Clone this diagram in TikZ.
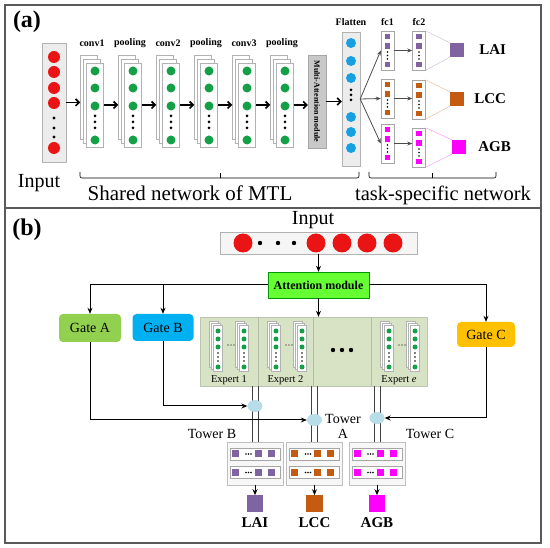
\documentclass[tikz,border=0pt]{standalone}
\usepackage{fontspec}
\setmainfont{Liberation Serif}
\usetikzlibrary{positioning,arrows.meta,shapes.geometric,calc}
\definecolor{netred}{RGB}{235,20,20}
\definecolor{netgreen}{RGB}{20,160,70}
\definecolor{netblue}{RGB}{20,160,225}
\definecolor{taskpurple}{RGB}{128,100,162}
\definecolor{taskorange}{RGB}{197,90,17}
\definecolor{taskmagenta}{RGB}{255,0,255}
\definecolor{attgreen}{RGB}{102,255,51}
\definecolor{gateA}{RGB}{146,208,80}
\definecolor{gateB}{RGB}{0,176,240}
\definecolor{gateC}{RGB}{255,192,0}
\definecolor{expertbg}{RGB}{216,226,196}
\definecolor{towerblue}{RGB}{183,221,232}
\definecolor{boxgray}{RGB}{236,236,236}
\definecolor{magray}{RGB}{200,200,200}
\definecolor{framegray}{RGB}{90,90,90}

\tikzset{
  panel/.style={draw=framegray, line width=1.2pt},
  panellab/.style={font=\bfseries\fontsize{24}{28}\selectfont, inner sep=0pt},
  bigtext/.style={font=\fontsize{21}{25}\selectfont, inner sep=0pt},
  column/.style={draw=gray!60, fill=boxgray, inner sep=0pt},
  sheet/.style={draw=gray!60, fill=white, line width=0.5pt, inner sep=0pt,
    minimum width=17pt, minimum height=84pt},
  ssheet/.style={draw=gray!60, fill=white, line width=0.4pt, inner sep=0pt,
    minimum width=9pt, minimum height=46pt},
  stacklabel/.style={font=\bfseries\fontsize{10}{12}\selectfont, inner sep=0pt},
  flow/.style={-{Straight Barb[length=3.5pt,width=7pt]}, line width=1.6pt},
  thinflow/.style={-{Stealth[length=5pt,width=4pt]}, line width=0.8pt, draw=black!70},
  arrowb/.style={-{Stealth[length=6pt,width=5pt]}, line width=1pt},
  fcbox/.style={draw=gray!70, fill=white, inner sep=0pt, minimum width=13pt, minimum height=39pt},
  outsq/.style={draw=none, inner sep=0pt, minimum size=14pt},
  outlab/.style={font=\bfseries\fontsize{15}{18}\selectfont, inner sep=0pt},
  gate/.style={rounded corners=4pt, inner sep=0pt, font=\fontsize{14}{16}\selectfont},
  towerbox/.style={draw=gray!50, fill=gray!6, inner sep=0pt, minimum width=56pt, minimum height=43pt},
  towerbar/.style={draw=gray!70, fill=white, inner sep=0pt, minimum width=50pt, minimum height=12pt},
  tline/.style={draw=black!75, line width=0.8pt},
  towerdot/.style={ellipse, fill=towerblue, inner sep=0pt, minimum width=15pt, minimum height=12pt},
  midtext/.style={font=\fontsize{14}{15}\selectfont, inner sep=0pt},
}

\begin{document}
\begin{tikzpicture}[x=1pt, y=-1pt]
    \useasboundingbox (0,0) rectangle (550,548);

    % =========================================================================
    % PANNEAU (a)
    % =========================================================================
    \draw[panel] (5,5) rectangle (541,208);
    \node[panellab] (labA) at (27,22) {(a)};

    % colonne d'entree
    \node[column, minimum width=24pt, minimum height=119pt] (inA) at (54,102.5) {};
    \foreach \yy in {57,72,88,103,148} \fill[netred] (54,\yy) circle (6pt);
    \foreach \yy in {118,128,137} \fill (54,\yy) circle (1.6pt);
    \node[bigtext, font=\fontsize{20}{24}\selectfont] (inAT) at (39,183) {Input};

    % piles conv / pooling
    \foreach \cx/\lab [count=\i] in {95/conv1, 133/pooling, 171/conv2, 209/pooling, 247/conv3, 285/pooling} {
        \node[sheet] (b\i) at (\cx-6,97) {};
        \node[sheet] (m\i) at (\cx-3,101) {};
        \node[sheet] (s\i) at (\cx,105) {};
        \node[stacklabel] (l\i) at (\cx-3,43) {\lab};
        \foreach \yy in {71,88,106,140} \fill[netgreen] (\cx,\yy) circle (4.5pt);
        \foreach \yy in {116,122,128} \fill (\cx,\yy) circle (1.5pt);
    }
    \draw[flow] (inA.east) -- (inA.east -| b1.west);
    \foreach \i [evaluate=\i as \j using int(\i+1)] in {1,...,5}
        \draw[flow] (s\i.east) -- (s\i.east -| b\j.west);

    % module d'attention
    \node[draw=gray!70, fill=magray, inner sep=0pt, minimum width=18pt, minimum height=93pt] (ma) at (317,101.5) {};
    \node[rotate=-90, font=\bfseries\fontsize{8}{9}\selectfont, inner sep=0pt] (maT) at (ma.center) {Multi-Attention module};
    \draw[flow] (s6.east) -- (s6.east -| ma.west);

    % flatten
    \node[column, minimum width=18pt, minimum height=134pt] (fl) at (351,99) {};
    \foreach \yy in {43,61,78,117,132,148} \fill[netblue] (351,\yy) circle (5pt);
    \foreach \yy in {90,95,100} \fill (351,\yy) circle (1.5pt);
    \node[stacklabel] (flT) at (351,22) {Flatten};
    \draw[flow] (ma.east) -- (ma.east -| fl.west);

    % couches fc par tache
    \node[stacklabel] (fc1T) at (387.5,22) {fc1};
    \node[stacklabel] (fc2T) at (419,22) {fc2};
    \foreach \nm/\col/\ya/\yb in {lai/taskpurple/31/31, lcc/taskorange/79/80, agb/taskmagenta/124/128} {
        \node[fcbox] (\nm1) at (387.5,\ya+19.5) {};
        \node[fcbox] (\nm2) at (419,\yb+19.5) {};
        \foreach \bx/\by in {387.5/\ya, 419/\yb} {
            \foreach \dy in {5.5,15,33.5} \fill[\col] (\bx-2.6,\by+\dy-2.6) rectangle ++(5.2,5.2);
            \foreach \dy in {21,24.5,28} \fill (\bx,\by+\dy) circle (0.9pt);
        }
        \draw[thinflow] (fl.east) -- (\nm1.west);
        \draw[thinflow] (\nm1.east) -- (\nm1.east -| \nm2.west);
    }

    % sorties
    \foreach \nm/\col/\ox/\oy/\gap/\txt in {lai/taskpurple/457/50/15pt/LAI, lcc/taskorange/457/99/10pt/LCC, agb/taskmagenta/459/147/12pt/AGB} {
        \node[outsq, fill=\col] (\nm out) at (\ox,\oy) {};
        \draw[\col!40, line width=0.5pt] (\nm2.north east) -- (\nm out.north west)
                                         (\nm2.south east) -- (\nm out.south west);
        \node[outlab, right=\gap of \nm out] (\nm txt) {\txt};
    }

    % accolades
    \draw[line width=0.6pt, rounded corners=2pt] (80,172) -- (80,178) -- (359,178) -- (359,172);
    \draw[line width=0.6pt] (220,178) -- (220,173);
    \draw[line width=0.6pt, rounded corners=2pt] (369,172) -- (369,178) -- (496,178) -- (496,172);
    \draw[line width=0.6pt] (432,178) -- (432,173);
    \node[bigtext] (sharedT) at (190,193) {Shared network of MTL};
    \node[bigtext, font=\fontsize{20.5}{25}\selectfont] (taskT) at (443,195) {task-specific network};

    % =========================================================================
    % PANNEAU (b)
    % =========================================================================
    \draw[panel] (5,208) rectangle (541,543);
    \node[panellab] (labB) at (27,230) {(b)};

    % entree
    \node[bigtext, font=\fontsize{20}{24}\selectfont] (inBT) at (313,220) {Input};
    \node[column, fill=gray!8, minimum width=197pt, minimum height=22pt] (inB) at (318.5,243) {};
    \foreach \xx in {243,316,342,367,393} \fill[netred] (\xx,243) circle (9.5pt);
    \foreach \xx in {260,278,294} \fill (\xx,243) circle (2.2pt);

    % attention
    \node[draw=green!60!black, fill=attgreen, inner sep=0pt, minimum width=101pt, minimum height=26pt,
          font=\bfseries\fontsize{12}{14}\selectfont] (att) at (318.5,285) {Attention module};
    \draw[arrowb] (inB.south) -- (att.north);

    % portes
    \node[gate, fill=gateA, minimum width=62pt, minimum height=28pt] (gA) at (90,328) {Gate A};
    \node[gate, fill=gateB, minimum width=61pt, minimum height=27pt] (gB) at (163,327.5) {Gate B};
    \node[gate, fill=gateC, minimum width=58pt, minimum height=25pt] (gC) at (486,334.5) {Gate C};
    \draw[arrowb] (att.west) -| (gA.north);
    \draw[arrowb] (att.west) -| (gB.north);
    \draw[arrowb] (att.east) -| (gC.north);

    % experts
    \node[draw=expertbg!70!gray, fill=expertbg, inner sep=0pt, minimum width=227pt, minimum height=69pt] (ex) at (313.5,351.5) {};
    \draw[arrowb] (att.south) -- (att.south |- ex.north);
    \foreach \xl in {258,313,371} \draw[expertbg!60!gray, line width=0.6pt] (\xl,317) -- (\xl,386);
    \foreach \xl/\xw/\lab [count=\k] in {200/58/{Expert 1}, 258/55/{Expert 2}, 371/56/{Expert \textit{e}}} {
        \foreach \sx in {18,44} {
            \node[ssheet] (x\k-\sx-a) at (\xl+\sx-4,344) {};
            \node[ssheet] (x\k-\sx-b) at (\xl+\sx-2,346) {};
            \node[ssheet] (x\k-\sx-c) at (\xl+\sx,348) {};
            \foreach \yy in {331,339,347,367} \fill[netgreen] (\xl+\sx,\yy) circle (2.5pt);
            \foreach \yy in {353,357,361} \fill (\xl+\sx,\yy) circle (0.8pt);
        }
        \foreach \dx in {28,31,34} \fill (\xl+\dx,345) circle (0.7pt);
        \node[font=\fontsize{10.5}{12}\selectfont, inner sep=0pt] (e\k) at (\xl+\xw/2,380) {\lab};
    }
    \foreach \xx in {333,342,351} \fill (\xx,350) circle (2.2pt);

    % tours
    \foreach \nm/\col/\tx/\ey/\txt in {B/taskpurple/255/406/LAI, A/taskorange/314.5/420/LCC, C/taskmagenta/377/418/AGB} {
        \node[towerbox] (tw\nm) at (\tx,463.5) {};
        \foreach \ty [count=\r] in {454,472.5} {
            \node[towerbar] (bar\nm\r) at (\tx,\ty) {};
            \foreach \dx in {-20,3,16} \fill[\col] (\tx+\dx-3.5,\ty-3.5) rectangle ++(7,7);
            \foreach \dx in {-9,-6.5,-4} \fill (\tx+\dx,\ty) circle (0.8pt);
        }
        \draw[tline] ([xshift=-3pt]tw\nm.north |- ex.south) -- ([xshift=-3pt]tw\nm.north);
        \draw[tline] ([xshift=3pt]tw\nm.north |- ex.south) -- ([xshift=3pt]tw\nm.north);
        \node[towerdot] (el\nm) at (\tx,\ey) {};
        \node[outsq, fill=\col, minimum size=16.5pt, below=10pt of tw\nm] (o\nm) {};
        \draw[arrowb] (tw\nm.south) -- (o\nm.north);
        \node[outlab, below=5pt of o\nm] (o\nm txt) {\txt};
    }

    % liaisons portes -> tours
    \draw[arrowb] (gB.south) |- (elB.west);
    \draw[arrowb] (gA.south) |- (elA.west);
    \draw[arrowb] (gC.south) |- (elC.east);

    \node[midtext] (tBT) at (212,434) {Tower B};
    \node[midtext, align=center] (tAT) at (343,426.5) {Tower\\A};
    \node[midtext] (tCT) at (430,434) {Tower C};

\end{tikzpicture}
\end{document}
